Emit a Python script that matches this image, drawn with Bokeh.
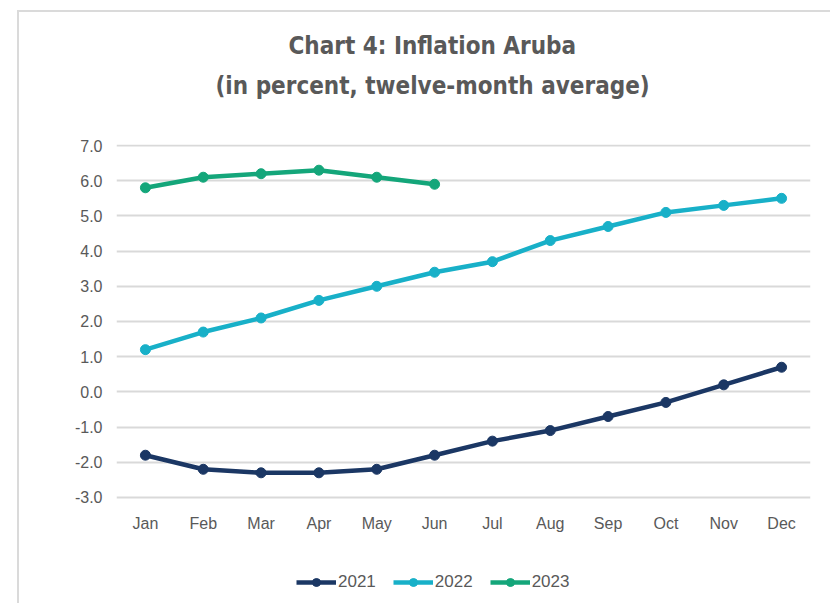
from bokeh.plotting import figure
from bokeh.models import (FactorRange, Range1d, Legend, LegendItem, FixedTicker,
                          CustomJSTickFormatter, Title)
from bokeh.core.properties import value
from bokeh.embed import file_html
from bokeh.resources import INLINE

months = ["Jan", "Feb", "Mar", "Apr", "May", "Jun", "Jul", "Aug", "Sep", "Oct", "Nov", "Dec"]
y2021 = [-1.8, -2.2, -2.3, -2.3, -2.2, -1.8, -1.4, -1.1, -0.7, -0.3, 0.2, 0.7]
y2022 = [1.2, 1.7, 2.1, 2.6, 3.0, 3.4, 3.7, 4.3, 4.7, 5.1, 5.3, 5.5]
y2023 = [5.8, 6.1, 6.2, 6.3, 6.1, 5.9]
series_names = ["2021", "2022", "2023"]
y_ticks = [-3, -2, -1, 0, 1, 2, 3, 4, 5, 6, 7]

colors = ["#1b3764", "#18b0c8", "#14a67a"]
TXT = "#595959"

# the frame reaches down to the legend; the value axis spans -3..7 through the ticks
p = figure(frame_width=694, frame_height=459, output_backend="svg", toolbar_location=None,
           x_range=FactorRange(factors=months, range_padding=0),
           y_range=Range1d(-6.014, 7.03),
           min_border_left=97, min_border_right=20, min_border_top=132, min_border_bottom=0,
           margin=(10, 0, 0, 17))
p.styles = {"border-left": "2px solid #dadada", "border-top": "2px solid #dadada"}

TFONT = "DejaVu Sans Condensed"
# panels above stack outward from the frame in the order they are added
p.add_layout(Title(text=" ", text_font_size="24px", standoff=6), "above")
p.add_layout(Title(text="(in percent, twelve-month average)",
                   align="left", offset=99, text_font=TFONT, text_font_size="24px",
                   text_font_style="bold", text_color=TXT, standoff=20), "above")
p.title = Title(text="Chart 4: Inflation Aruba",
                align="left", offset=172, text_font=TFONT, text_font_size="24px",
                text_font_style="bold", text_color=TXT, standoff=0)

p.outline_line_color = None
p.background_fill_color = "white"
p.border_fill_color = "white"

p.xaxis.visible = False
p.xgrid.grid_line_color = None
p.ygrid.grid_line_color = "#d9d9d9"
p.ygrid.grid_line_width = 2
p.yaxis.ticker = FixedTicker(ticks=y_ticks)
p.yaxis.formatter = CustomJSTickFormatter(code="return tick.toFixed(1);")
p.yaxis.axis_line_color = None
p.yaxis.major_tick_line_color = None
p.yaxis.minor_tick_line_color = None
p.yaxis.major_label_text_color = TXT
p.yaxis.major_label_text_font = "Liberation Sans"
p.yaxis.major_label_text_font_size = "16px"
p.yaxis.major_label_standoff = 8

# month labels under the lowest gridline
p.text(x=months, y=[y_ticks[0]] * len(months), text=months, y_offset=26,
       text_align="center", text_baseline="middle", text_color=TXT,
       text_font=value("Liberation Sans"), text_font_size="16px")

items = []
data = [y2021, y2022, y2023]
for name, vals, c in zip(series_names, data, colors):
    xs = months[:len(vals)]
    r1 = p.line(xs, vals, line_color=c, line_width=4.5)
    r2 = p.scatter(xs, vals, size=10, fill_color=c, line_color=c)
    items.append(LegendItem(label=name, renderers=[r1, r2]))

legend = Legend(items=items, orientation="horizontal", location=(180, 11),
                glyph_width=40, glyph_height=20, label_standoff=2, spacing=17,
                label_text_font="Liberation Sans", label_text_font_size="17px",
                label_text_color=TXT, border_line_color=None, background_fill_alpha=0,
                margin=0, padding=4)
p.add_layout(legend, "center")

open("out.html", "w").write(file_html(p, INLINE))
